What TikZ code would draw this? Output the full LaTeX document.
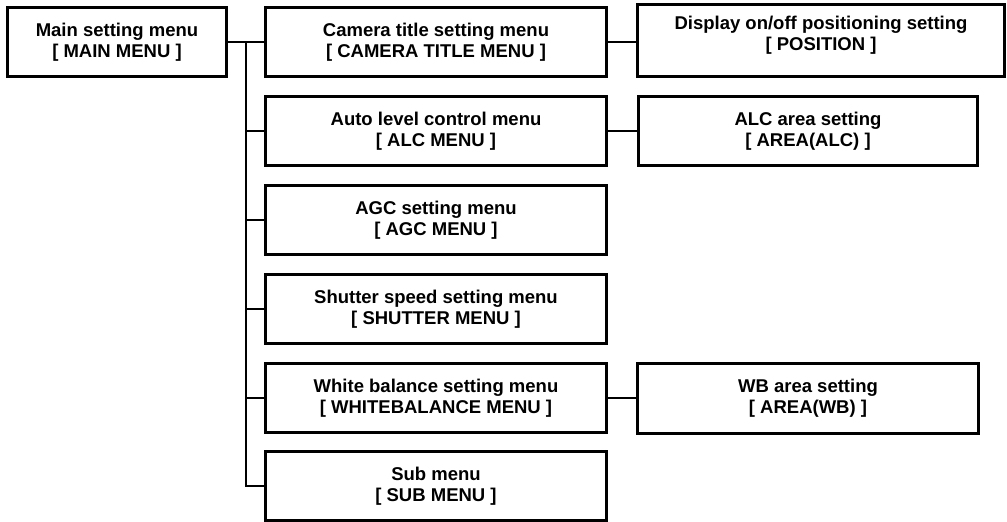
\documentclass[tikz,border=0pt]{standalone}
\usepackage{fontspec}
\setmainfont{Liberation Sans}
\usepackage{tikz}
\usetikzlibrary{positioning}

\tikzset{menubox/.style={draw, line width=3pt, align=center, inner sep=0pt,
		font=\fontsize{18.5}{21}\selectfont\bfseries, minimum height=69pt},
	link/.style={line width=1.4pt}}

\begin{document}
\begin{tikzpicture}[x=1pt, y=-1pt]
%		\draw [help lines] (0,0) grid (1007,522);
		\useasboundingbox (0,0) rectangle (1007,522);
		\node [menubox, minimum width=219pt] (main) at (117,42) {Main setting menu\\{}[ MAIN MENU ]};
		% second column
		\node [menubox, minimum width=341pt] (camera) at (436,42) {Camera title setting menu\\{}[ CAMERA TITLE MENU ]};
		\node [menubox, minimum width=341pt] (alc) at (436,131) {Auto level control menu\\{}[ ALC MENU ]};
		\node [menubox, minimum width=341pt] (agc) at (436,220) {AGC setting menu\\{}[ AGC MENU ]};
		\node [menubox, minimum width=341pt] (shutter) at (436,309) {Shutter speed setting menu\\{}[ SHUTTER MENU ]};
		\node [menubox, minimum width=341pt] (wbal) at (436,398) {White balance setting menu\\{}[ WHITEBALANCE MENU ]};
		\node [menubox, minimum width=341pt] (sub) at (436,486) {Sub menu\\{}[ SUB MENU ]};
		% third column
		\node [menubox, minimum width=367pt, minimum height=72pt, text depth=14pt] (position) at (821,40) {Display on/off positioning setting\\{}[ POSITION ]};
		\node [menubox, minimum width=339pt] (alcarea) at (808,131) {ALC area setting\\{}[ AREA(ALC) ]};
		\node [menubox, minimum width=341pt, minimum height=70pt] (wbarea) at (808,398) {WB area setting\\{}[ AREA(WB) ]};
		% tree lines
		\coordinate (trunk) at (246,42);
		\draw [link] (main.east) -- (camera.west);
		\draw [link] (trunk) -- (trunk |- sub.west) -- (sub.west);
		\foreach \n in {alc,agc,shutter,wbal}
			\draw [link] (trunk |- \n.west) -- (\n.west);
		\draw [link] (camera.east) -- (position.west |- camera.east);
		\draw [link] (alc.east) -- (alcarea.west);
		\draw [link] (wbal.east) -- (wbarea.west);
	\end{tikzpicture}
\end{document}
